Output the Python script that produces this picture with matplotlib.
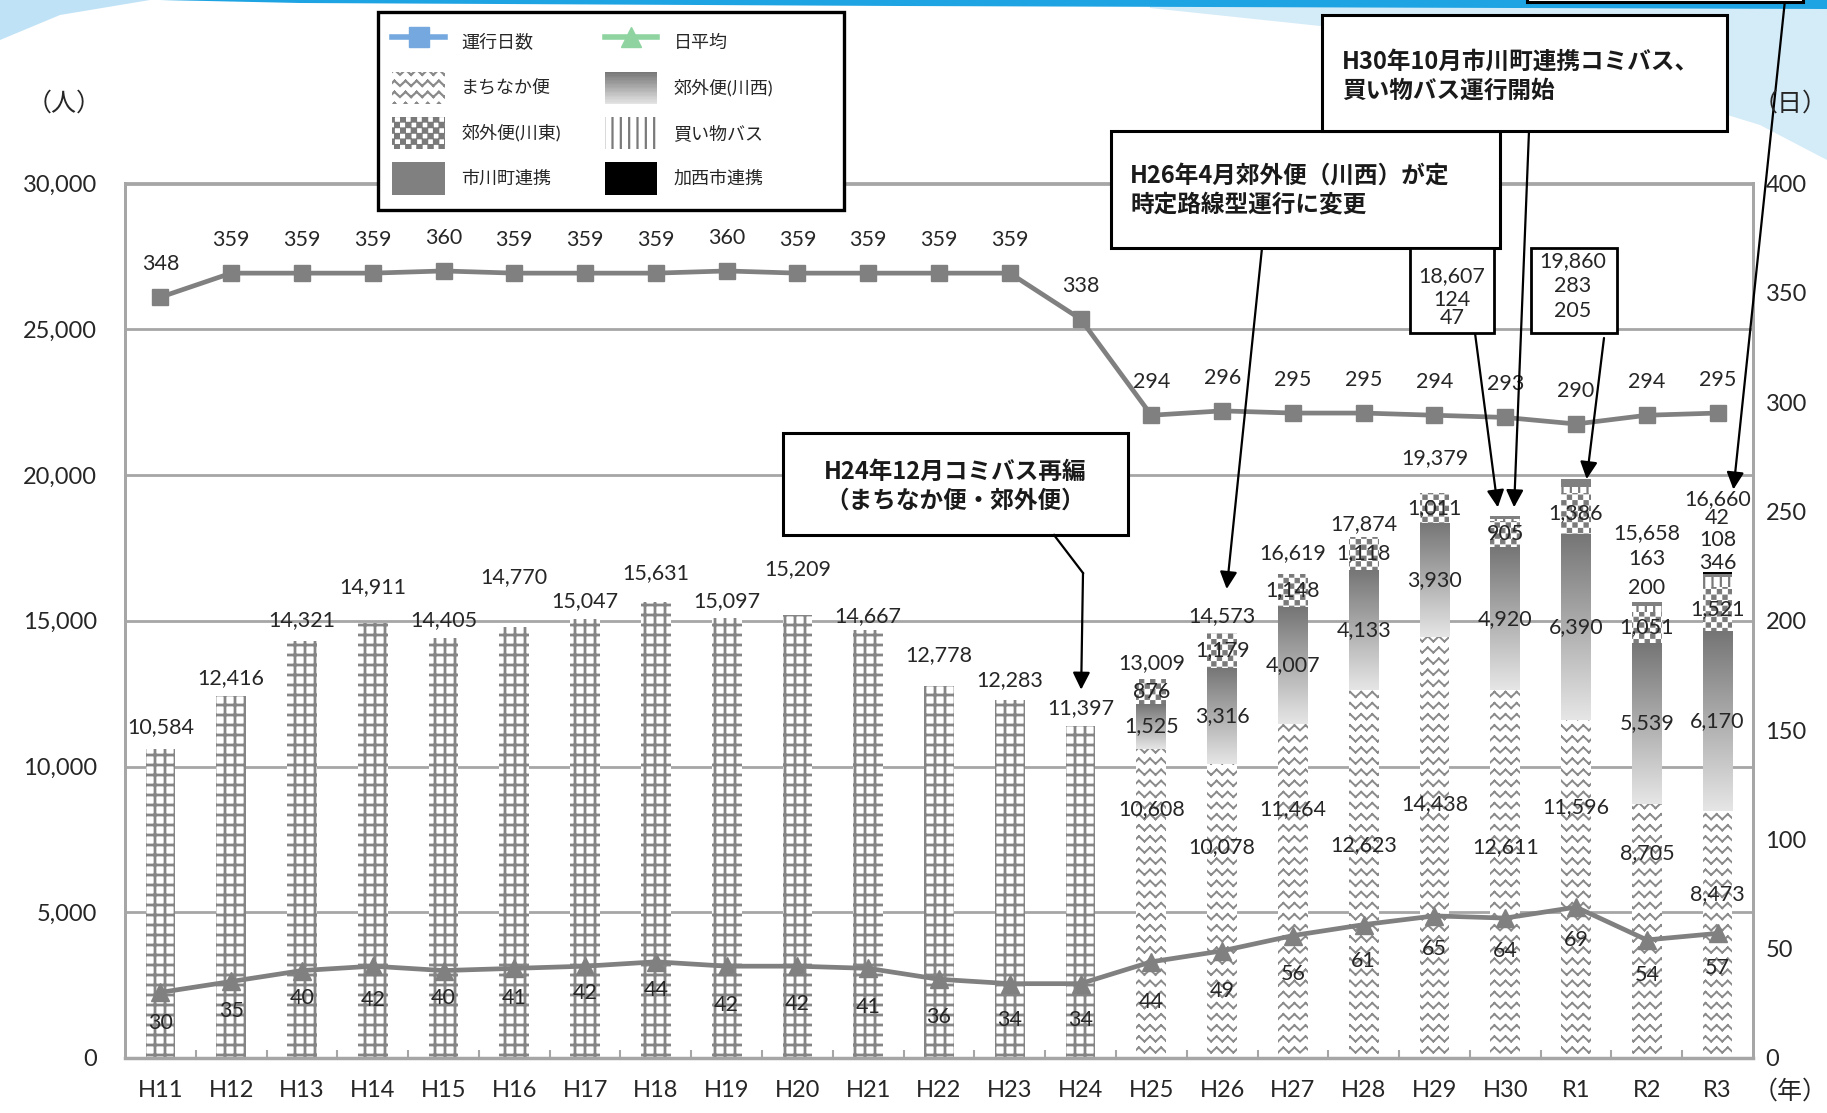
import numpy as np
import matplotlib
matplotlib.use("Agg")
import matplotlib.pyplot as plt
import matplotlib.hatch as mhatch
from matplotlib.path import Path
from matplotlib.patches import Rectangle, Patch, Polygon
from matplotlib.lines import Line2D
from matplotlib.colors import LinearSegmentedColormap
from matplotlib.legend_handler import HandlerBase
from matplotlib.ticker import FuncFormatter, MultipleLocator

# ---------------- data ----------------
years = ["H11", "H12", "H13", "H14", "H15", "H16", "H17", "H18", "H19", "H20",
         "H21", "H22", "H23", "H24", "H25", "H26", "H27", "H28", "H29", "H30",
         "R1", "R2", "R3"]
old_bus = [10584, 12416, 14321, 14911, 14405, 14770, 15047, 15631, 15097, 15209,
           14667, 12778, 12283, 11397, 0, 0, 0, 0, 0, 0, 0, 0, 0]
machinaka = [0] * 14 + [10608, 10078, 11464, 12623, 14438, 12611, 11596, 8705, 8473]
kougai_kawanishi = [0] * 14 + [1525, 3316, 4007, 4133, 3930, 4920, 6390, 5539, 6170]
kougai_kawahigashi = [0] * 14 + [876, 1179, 1148, 1118, 1011, 905, 1386, 1051, 1521]
kaimono = [0] * 19 + [47, 205, 200, 346]
ichikawa = [0] * 19 + [124, 283, 163, 108]
kasai = [0] * 22 + [42]
operating_days = [348, 359, 359, 359, 360, 359, 359, 359, 360, 359, 359, 359, 359,
                  338, 294, 296, 295, 295, 294, 293, 290, 294, 295]
daily_avg = [30, 35, 40, 42, 40, 41, 42, 44, 42, 42, 41, 36, 34, 34, 44, 49, 56, 61,
             65, 64, 69, 54, 57]

# ---------------- layout (label offsets in points) ----------------
old_label_off = [16, 13, 15, 26, 13, 36, 13, 21, 12, 33, 10, 22, 14, 13]
avg_label_off = [22, 21, 20, 24, 20, 21, 19, 20, 28, 27, 28, 27, 26, 26,
                 29, 29, 28, 26, 24, 24, 24, 25, 25]
machinaka_label_y = [8540, 7220, 8540, 7300, 8700, 7220, 8620, 7020, 5610]

# ---------------- custom hatches ----------------
class WaveHatch(mhatch.HatchPatternBase):
    def __init__(self, hatch, density):
        n = hatch.count('O')
        self.rows = int(n * 9)
        self.periods = 9
        self.num_vertices = self.rows * self.periods * 4

    def set_vertices_and_codes(self, vertices, codes):
        amp = 0.026
        xs = np.linspace(0, 1, 2 * self.periods + 1)
        off = np.where(np.arange(len(xs)) % 2 == 0, -amp, amp)
        k = 0
        for r in range(self.rows):
            y0 = (r + 0.5) / self.rows
            for s in range(2 * self.periods):
                vertices[k] = (xs[s], y0 + off[s])
                vertices[k + 1] = (xs[s + 1], y0 + off[s + 1])
                codes[k] = Path.MOVETO
                codes[k + 1] = Path.LINETO
                k += 2


class CheckerHatch(mhatch.HatchPatternBase):
    def __init__(self, hatch, density):
        n = hatch.count('o')
        self.cells = int(n * 18)
        self.num_vertices = (self.cells * self.cells // 2) * 5

    def set_vertices_and_codes(self, vertices, codes):
        c = self.cells
        s = 1.0 / c
        m = s * 0.12
        k = 0
        for i in range(c):
            for j in range(c):
                if (i + j) % 2:
                    continue
                x0, y0 = j * s + m, i * s + m
                x1, y1 = (j + 1) * s - m, (i + 1) * s - m
                vertices[k:k + 5] = [(x0, y0), (x1, y0), (x1, y1), (x0, y1), (x0, y0)]
                codes[k:k + 5] = [Path.MOVETO, Path.LINETO, Path.LINETO,
                                  Path.LINETO, Path.CLOSEPOLY]
                k += 5


class GridHatch(mhatch.HatchPatternBase):
    def __init__(self, hatch, density):
        n = hatch.count('*')
        self.num = int(n * 10)
        self.num_vertices = self.num * 4

    def set_vertices_and_codes(self, vertices, codes):
        steps = (np.arange(self.num) + 0.5) / self.num
        k = 0
        for s in steps:
            vertices[k:k + 4] = [(0, s), (1, s), (s, 0), (s, 1)]
            codes[k:k + 4] = [Path.MOVETO, Path.LINETO, Path.MOVETO, Path.LINETO]
            k += 4


mhatch._hatch_types = [mhatch.HorizontalHatch, mhatch.VerticalHatch,
                       mhatch.NorthEastHatch, mhatch.SouthEastHatch,
                       mhatch.SmallFilledCircles,
                       WaveHatch, CheckerHatch, GridHatch]

# ---------------- style ----------------
plt.rcParams['font.family'] = ['Lato', 'Noto Sans CJK JP', 'DejaVu Sans']
plt.rcParams['hatch.linewidth'] = 1.6
TXT = '#262626'
GRID = '#a6a6a6'
LINEC = '#808080'
HATCHC = '#858585'
grad_cmap = LinearSegmentedColormap.from_list('g', ['#e6e6e6', '#757575'])

W, H = 1827, 1113
fig = plt.figure(figsize=(W / 100, H / 100), dpi=100)
fig.patch.set_facecolor('white')


def fx(px):
    return px / W


def fy(py):
    return 1 - py / H


# decorative slide background
fig.add_artist(Polygon([[fx(1150), fy(0)], [fx(1827), fy(0)], [fx(1827), fy(160)],
                        [fx(1760), fy(125)], [fx(1500), fy(45)], [fx(1150), fy(8)]],
                       closed=True, transform=fig.transFigure, fc='#d4ebf8', ec='none', zorder=-5))
fig.add_artist(Polygon([[fx(0), fy(0)], [fx(150), fy(0)], [fx(60), fy(15)], [fx(0), fy(40)]],
                       closed=True, transform=fig.transFigure, fc='#bfe2f6', ec='none', zorder=-5))
fig.add_artist(Polygon([[fx(160), fy(0)], [fx(1827), fy(0)], [fx(1827), fy(9)],
                        [fx(900), fy(6)], [fx(300), fy(3)]],
                       closed=True, transform=fig.transFigure, fc='#1ea3e3', ec='none', zorder=-4))

ax = fig.add_axes([fx(125), fy(1058), fx(1753) - fx(125), fy(183.5) - fy(1058)])
ax2 = ax.twinx()

x = np.arange(len(years))
bw = 0.42


def set_hlw(bars, lw):
    for b in bars:
        if hasattr(b, 'set_hatch_linewidth'):
            b.set_hatch_linewidth(lw)


# old community bus (grid pattern)
b_old = ax.bar(x, old_bus, bw, color='white', edgecolor=HATCHC, hatch='*', linewidth=0, zorder=2)
set_hlw(b_old, 2.0)

bottom = np.zeros(len(x))
b_mach = ax.bar(x, machinaka, bw, bottom=bottom, color='white', edgecolor='#8a8a8a',
                hatch='O', linewidth=0, zorder=2)
set_hlw(b_mach, 1.4)
bottom += np.array(machinaka)

b_kw = ax.bar(x, kougai_kawanishi, bw, bottom=bottom, color='none', linewidth=0, zorder=2)
for rect, v in zip(b_kw, kougai_kawanishi):
    if v <= 0:
        continue
    x0 = rect.get_x()
    y0 = rect.get_y()
    im = ax.imshow(np.linspace(0, 1, 256).reshape(-1, 1), cmap=grad_cmap, aspect='auto',
                   origin='lower', extent=[x0, x0 + rect.get_width(), y0, y0 + rect.get_height()],
                   zorder=2, interpolation='bilinear')
    im.set_clip_path(rect)
bottom_kw = bottom.copy()
bottom += np.array(kougai_kawanishi)

b_kh = ax.bar(x, kougai_kawahigashi, bw, bottom=bottom, color='white', edgecolor='#7a7a7a',
              hatch='o', linewidth=0, zorder=2)
set_hlw(b_kh, 0.8)
bottom_kh = bottom.copy()
bottom += np.array(kougai_kawahigashi)

b_km = ax.bar(x, kaimono, bw, bottom=bottom, color='white', edgecolor='#7a7a7a',
              hatch='||', linewidth=0, zorder=2)
set_hlw(b_km, 1.6)
bottom += np.array(kaimono)

b_ic = ax.bar(x, ichikawa, bw, bottom=bottom, color='#808080', linewidth=0, zorder=2)
bottom += np.array(ichikawa)
b_ks = ax.bar(x, kasai, bw, bottom=bottom, color='black', linewidth=0, zorder=2)
bottom += np.array(kasai)
totals = np.array(old_bus) + bottom

# axes formatting
ax.set_xlim(-0.5, len(x) - 0.5)
ax.set_ylim(0, 30000)
ax2.set_ylim(0, 400)
ax.yaxis.set_major_locator(MultipleLocator(5000))
ax2.yaxis.set_major_locator(MultipleLocator(50))
ax.yaxis.set_major_formatter(FuncFormatter(lambda v, p: f"{int(v):,}"))
ax.set_xticks(x)
ax.set_xticklabels(years)
ax.set_xticks(np.arange(-0.5, len(x) - 0.5 + 0.01, 1.0)[1:-1], minor=True)
ax.grid(axis='y', color=GRID, lw=2, zorder=0.5)
ax.set_axisbelow(True)
for a in (ax, ax2):
    for sp in a.spines.values():
        sp.set_color(GRID)
        sp.set_linewidth(2)
ax.spines['bottom'].set_linewidth(2.5)
ax.tick_params(axis='y', length=0, pad=20, labelsize=17, labelcolor=TXT)
ax2.tick_params(axis='y', length=0, pad=9, labelsize=17, labelcolor=TXT)
ax.tick_params(axis='x', which='major', length=0, pad=16, labelsize=17, labelcolor=TXT)
ax.tick_params(axis='x', which='minor', length=6, width=1.5, direction='in', color=GRID)

# lines (right axis)
ax2.plot(x, operating_days, color=LINEC, lw=3.4, marker='s', ms=12, zorder=5)
ax2.plot(x, daily_avg, color=LINEC, lw=3.4, marker='^', ms=13, zorder=5)
for i, v in enumerate(operating_days):
    ax2.annotate(str(v), (i, v), xytext=(0, 24), textcoords='offset points',
                 ha='center', va='center', fontsize=15.5, color=TXT)
for i, v in enumerate(daily_avg):
    ax2.annotate(str(v), (i, v), xytext=(0, -avg_label_off[i]), textcoords='offset points',
                 ha='center', va='center', fontsize=15.5, color=TXT)

LBL = dict(ha='center', va='center', fontsize=15.5, color=TXT, zorder=6)
# old bar labels
for i, v in enumerate(old_bus):
    if v > 0:
        ax.annotate(f"{v:,}", (i, v), xytext=(0, old_label_off[i]), textcoords='offset points', **LBL)

# new bar labels
new_idx = [i for i in range(len(x)) if machinaka[i] > 0]
for k, i in enumerate(new_idx):
    ax.text(i, machinaka_label_y[k], f"{machinaka[i]:,}", **LBL)
    ax.text(i, bottom_kw[i] + kougai_kawanishi[i] / 2, f"{kougai_kawanishi[i]:,}", **LBL)
    ax.text(i, bottom_kh[i] + kougai_kawahigashi[i] / 2, f"{kougai_kawahigashi[i]:,}", **LBL)

total_off = {14: 11, 15: 12, 16: 15, 17: 9, 18: 25, 21: 49, 22: 53}
for i, o in total_off.items():
    ax.annotate(f"{int(totals[i]):,}", (i, totals[i]), xytext=(0, o), textcoords='offset points', **LBL)
# small segments of R2 / R3
ax.annotate(f"{ichikawa[21]:,}", (21, totals[21]), xytext=(0, 31), textcoords='offset points', **LBL)
ax.annotate(f"{kaimono[21]:,}", (21, totals[21]), xytext=(0, 10), textcoords='offset points', **LBL)
ax.annotate(f"{kasai[22]:,}", (22, totals[22]), xytext=(0, 39), textcoords='offset points', **LBL)
ax.annotate(f"{ichikawa[22]:,}", (22, totals[22]), xytext=(0, 23), textcoords='offset points', **LBL)
ax.annotate(f"{kaimono[22]:,}", (22, totals[22]), xytext=(0, 7), textcoords='offset points', **LBL)

# ---------------- annotation boxes ----------------
def box(x0, y0, x1, y1, lw=2.2, z=4):
    fig.add_artist(Rectangle((fx(x0), fy(y1)), fx(x1) - fx(x0), fy(y0) - fy(y1),
                             transform=fig.transFigure, fc='white', ec='black', lw=lw, zorder=z))


BOXTXT = dict(fontsize=17, fontweight='bold', color='#1a1a1a', zorder=6,
              family=['Noto Sans CJK JP', 'DejaVu Sans'])
box(783, 433, 1128, 535)
fig.text(fx(955), fy(486), "H24年12月コミバス再編\n（まちなか便・郊外便）", ha='center', va='center',
         linespacing=1.25, **BOXTXT)
box(1111, 131, 1500, 248)
fig.text(fx(1130), fy(190), "H26年4月郊外便（川西）が定\n時定路線型運行に変更", ha='left', va='center',
         linespacing=1.25, **BOXTXT)
box(1322, 15, 1727, 131)
fig.text(fx(1342), fy(76), "H30年10月市川町連携コミバス、\n買い物バス運行開始", ha='left', va='center',
         linespacing=1.25, **BOXTXT)
box(1527, -60, 1803, 2)

box(1410, 248, 1494, 333, lw=2)
SM = dict(ha='center', va='center', fontsize=15.5, color=TXT, zorder=6)
fig.text(fx(1452), fy(276), f"{int(totals[19]):,}", **SM)
fig.text(fx(1452), fy(300), f"{ichikawa[19]:,}", **SM)
fig.text(fx(1452), fy(318), f"{kaimono[19]:,}", **SM)
box(1531, 248, 1617, 333, lw=2)
fig.text(fx(1573), fy(261), f"{int(totals[20]):,}", **SM)
fig.text(fx(1573), fy(286), f"{ichikawa[20]:,}", **SM)
fig.text(fx(1573), fy(311), f"{kaimono[20]:,}", **SM)

ARW = dict(arrowstyle='-|>', color='black', lw=1.6, mutation_scale=26, shrinkA=0)


def arrow(xy_data, start_px, shrink_pts):
    ax2.annotate('', xy=xy_data, xycoords=ax.transData,
                 xytext=(fx(start_px[0]), fy(start_px[1])), textcoords='figure fraction',
                 arrowprops=dict(ARW, shrinkB=shrink_pts), annotation_clip=False, zorder=7)


# H24 (with bend)
fig.add_artist(Line2D([fx(1054), fx(1083)], [fy(535), fy(573)], transform=fig.transFigure,
                      color='black', lw=1.6, zorder=7))
arrow((13, totals[13]), (1083, 573), 26)
arrow((15, totals[15]), (1262, 248), 32)
arrow((19 - 0.09, totals[19]), (1475, 333), 6)
arrow((19 + 0.12, totals[19]), (1529, 131), 6)
arrow((20 + 0.15, totals[20]), (1604, 338), 0)
arrow((22 + 0.1, totals[22]), (1785, 0), 60)

# ---------------- axis unit labels ----------------
fig.text(fx(64), fy(103), "（人）", ha='center', va='center', fontsize=18, color=TXT)
fig.text(fx(1790), fy(103), "（日）", ha='center', va='center', fontsize=18, color=TXT)
fig.text(fx(1790), fy(1091), "（年）", ha='center', va='center', fontsize=18, color=TXT)

# ---------------- legend ----------------
class HandlerGradient(HandlerBase):
    def create_artists(self, legend, orig_handle, xdescent, ydescent, width, height, fontsize, trans):
        arts = []
        n = 24
        for k in range(n):
            arts.append(Rectangle((-xdescent, -ydescent + height * k / n), width, height / n * 1.05,
                                  facecolor=grad_cmap((k + 0.5) / n), edgecolor='none', transform=trans))
        return arts


class GradHandle:
    pass


h_days = Line2D([], [], color='#74a8de', lw=4, marker='s', ms=14)
h_avg = Line2D([], [], color='#8fd4a0', lw=4, marker='^', ms=15)
h_mach = Patch(facecolor='white', edgecolor='#8a8a8a', hatch='O', lw=0)
h_kw = GradHandle()
h_kh = Patch(facecolor='white', edgecolor='#7a7a7a', hatch='o', lw=0)
h_km = Patch(facecolor='white', edgecolor='#7a7a7a', hatch='||', lw=0)
h_ic = Patch(facecolor='#808080', lw=0)
h_ks = Patch(facecolor='black', lw=0)
for hh, lw in ((h_mach, 1.4), (h_kh, 0.8), (h_km, 1.6)):
    if hasattr(hh, 'set_hatch_linewidth'):
        hh.set_hatch_linewidth(lw)

# legend frame drawn separately (wider than its content, as in the reference)
box(378, 12, 844, 210, lw=2.4, z=4.9)
handles = [h_days, h_mach, h_kh, h_ic, h_avg, h_kw, h_km, h_ks]
labels = ["運行日数", "まちなか便", "郊外便(川東)", "市川町連携", "日平均", "郊外便(川西)", "買い物バス", "加西市連携"]
leg = fig.legend(handles, labels, loc='upper left', bbox_to_anchor=(fx(378), fy(12)), ncol=2,
                 fontsize=13, frameon=False,
                 handlelength=2.9, handleheight=2.4, labelspacing=0.7, handletextpad=0.9,
                 columnspacing=2.45, borderpad=0.8, borderaxespad=0,
                 handler_map={GradHandle: HandlerGradient()})
leg.set_zorder(5)
for t in leg.get_texts():
    t.set_color(TXT)

fig.savefig("out.png", dpi=100)
